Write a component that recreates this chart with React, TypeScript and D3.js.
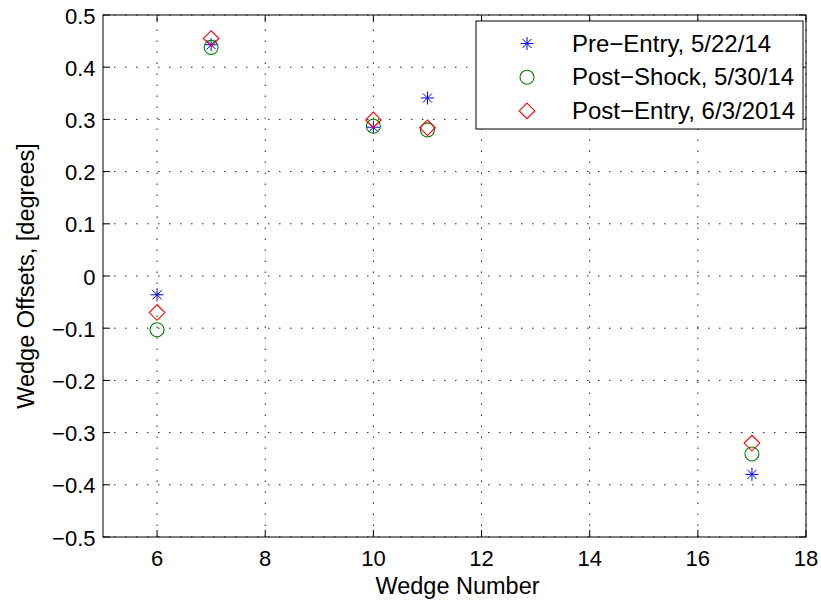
import React from "react";
import * as d3 from "d3";

const wedges = [6, 7, 10, 11, 17];
const preEntry = [-0.036, 0.443, 0.285, 0.341, -0.380];
const postShock = [-0.103, 0.438, 0.287, 0.280, -0.341];
const postEntry = [-0.070, 0.455, 0.299, 0.284, -0.320];
const xTicks = [6, 8, 10, 12, 14, 16, 18];
const yTicks = [-0.5, -0.4, -0.3, -0.2, -0.1, 0, 0.1, 0.2, 0.3, 0.4, 0.5];
const legendLabels = ["Pre\u2212Entry, 5/22/14", "Post\u2212Shock, 5/30/14", "Post\u2212Entry, 6/3/2014"];

const W = 821, H = 603;
const L = 103, R = 806, T = 15, B = 537;
const FONT = "'Liberation Sans', Arial, Helvetica, sans-serif";

function Star({ x, y, color }: { x: number; y: number; color: string }) {
  const s = 6.5;
  const d = 4.6;
  return (
    <g stroke={color} strokeWidth={1}>
      <line x1={x - s} y1={y} x2={x + s} y2={y} />
      <line x1={x} y1={y - s} x2={x} y2={y + s} />
      <line x1={x - d} y1={y - d} x2={x + d} y2={y + d} />
      <line x1={x - d} y1={y + d} x2={x + d} y2={y - d} />
    </g>
  );
}
function Circ({ x, y, color }: { x: number; y: number; color: string }) {
  return <circle cx={x} cy={y} r={7} fill="none" stroke={color} strokeWidth={1.1} />;
}
function Diamond({ x, y, color }: { x: number; y: number; color: string }) {
  const s = 7.8;
  return (
    <path d={`M${x},${y - s}L${x + s},${y}L${x},${y + s}L${x - s},${y}Z`} fill="none" stroke={color} strokeWidth={1.1} />
  );
}

export default function App() {
  const x = d3.scaleLinear().domain([5, 18]).range([L, R]);
  const y = d3.scaleLinear().domain([-0.5, 0.5]).range([B, T]);
  const series = [
    { vals: preEntry, color: "#0000ff", M: Star },
    { vals: postShock, color: "#008000", M: Circ },
    { vals: postEntry, color: "#ff0000", M: Diamond },
  ];
  const tl = 7;
  const fmt = (t: number) => (Math.abs(t) < 1e-9 ? "0" : d3.format(".1f")(t).replace("-", "\u2212"));
  return (
    <svg width={W} height={H} style={{ position: "absolute", left: 0, top: 0 }} fontFamily={FONT}>
      <rect x={0} y={0} width={W} height={H} fill="#fff" />
      {/* grid */}
      {xTicks.map((t) => (
        <line key={"gx" + t} x1={x(t)} x2={x(t)} y1={B} y2={T} stroke="#222" strokeWidth={1} strokeDasharray="1.5,9.5" />
      ))}
      {yTicks.map((t) => (
        <line key={"gy" + t} x1={L} x2={R} y1={y(t)} y2={y(t)} stroke="#222" strokeWidth={1} strokeDasharray="1.5,9.5" />
      ))}
      {/* ticks */}
      {xTicks.map((t) => (
        <g key={"tx" + t}>
          <line x1={x(t)} x2={x(t)} y1={B} y2={B - tl} stroke="#000" />
          <line x1={x(t)} x2={x(t)} y1={T} y2={T + tl} stroke="#000" />
          <text x={x(t)} y={566} fontSize={22} textAnchor="middle">{t}</text>
        </g>
      ))}
      {yTicks.map((t) => (
        <g key={"ty" + t}>
          <line x1={L} x2={L + tl} y1={y(t)} y2={y(t)} stroke="#000" />
          <line x1={R} x2={R - tl} y1={y(t)} y2={y(t)} stroke="#000" />
          <text x={L - 7.5} y={y(t) + 8.5} fontSize={22} textAnchor="end">{fmt(t)}</text>
        </g>
      ))}
      <rect x={L} y={T} width={R - L} height={B - T} fill="none" stroke="#000" strokeWidth={1} />
      {/* data */}
      {series.map((s, si) =>
        s.vals.map((v, i) => <s.M key={si + "-" + i} x={x(wedges[i])} y={y(v)} color={s.color} />)
      )}
      {/* legend */}
      <rect x={476} y={21} width={327} height={108} fill="#fff" stroke="#000" strokeWidth={1} />
      {series.map((s, i) => (
        <g key={"lg" + i}>
          <s.M x={527} y={43.5 + i * 33.7} color={s.color} />
          <text x={572} y={51.5 + i * 33.7} fontSize={24}>{legendLabels[i]}</text>
        </g>
      ))}
      {/* labels */}
      <text x={(L + R) / 2 + 3} y={594} fontSize={23.5} textAnchor="middle">Wedge Number</text>
      <text transform={`translate(34,${(T + B) / 2}) rotate(-90)`} fontSize={23.5} textAnchor="middle">Wedge Offsets, [degrees]</text>
    </svg>
  );
}
